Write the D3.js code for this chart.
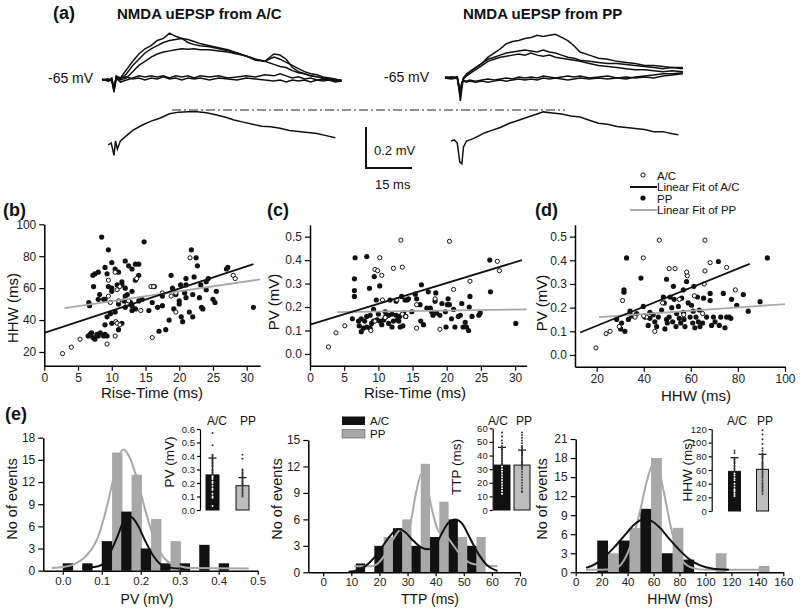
<!DOCTYPE html>
<html>
<head>
<meta charset="utf-8">
<script src="https://cdn.jsdelivr.net/npm/d3@7"></script>
<style>
  body { margin: 0; background: #fff; }
  svg text { font-family: "Liberation Sans", Arial, Helvetica, sans-serif; }
</style>
</head>
<body>
<svg id="fig" width="800" height="613"></svg>
<script>
// ---- panel (a): traces, time in ms, amplitude in mV (baseline 0) ----
var acTime = [0,2,3.2,3.9,4.6,6,8,10,12,14,16,18,20,22,24,26,28,30,32,35,38,41,44,47,50,53,56,58,60,62,64,66,68,70,72,74,76,78];
var acTraces = [
  [0.005,-0.005,0.01,-0.06,0.02,0.01,0.05,0.09,0.125,0.15,0.165,0.19,0.2,0.225,0.21,0.2,0.195,0.185,0.175,0.165,0.155,0.145,0.13,0.115,0.095,0.09,0.11,0.1,0.085,0.07,0.055,0.04,0.03,0.025,0.015,0.01,0.005,-0.005],
  [0,0.005,-0.005,-0.05,0.015,0.005,0.03,0.07,0.1,0.13,0.15,0.165,0.18,0.19,0.195,0.2,0.18,0.17,0.165,0.16,0.15,0.14,0.13,0.115,0.1,0.09,0.125,0.12,0.1,0.06,0.04,0.03,0.02,0.015,0.01,0.005,0,0],
  [0,0,0.005,-0.04,0.01,0,0.01,0.04,0.07,0.09,0.11,0.125,0.135,0.14,0.145,0.15,0.148,0.15,0.145,0.145,0.14,0.135,0.125,0.115,0.1,0.09,0.075,0.065,0.06,0.045,0.035,0.03,0.02,0.015,0.01,0.005,0,-0.005],
  [0.005,-0.005,0,-0.04,0.01,-0.01,0,0.01,0.02,0.015,0.02,0.015,0.02,0.01,0.02,0.015,0.02,0.01,0.02,0.015,0.02,0.01,0.015,0.02,0.015,0.025,0.02,0.03,0.02,0.01,0.015,0.005,0.01,0,0.005,0,-0.005,0],
  [0,0.005,-0.005,-0.05,0,0.01,0.015,0.005,0.01,0,0.01,0.005,0.015,0.005,0.01,0,0.01,0.005,0.01,0,0.01,0.005,0,0.01,0.005,0,-0.005,0,-0.01,0,-0.005,0,-0.01,0,-0.005,0,-0.01,-0.005]
];
var acAvgTime = [2,3,3.9,4.4,5,6,8,10,13,16,19,22,25,28,31,34,37,40,43,46,49,52,55,58,61,64,67,70,73,76];
var acAvg = [0,0.01,-0.05,0.02,-0.02,0.02,0.045,0.07,0.095,0.115,0.13,0.15,0.158,0.16,0.16,0.155,0.145,0.135,0.12,0.11,0.1,0.09,0.088,0.08,0.07,0.065,0.06,0.055,0.045,0.035];

var ppTime = [0,2,4,4.6,5,5.5,6,7,8,10,12,14,16,18,20,22,24,26,28,30,32,34,36,38,40,42,44,47,50,53,56,59,62,65,68,71,74,77.5];
var ppTraces = [
  [0,0.005,0,-0.06,-0.11,-0.05,0,0.02,0.03,0.05,0.07,0.1,0.12,0.14,0.165,0.175,0.18,0.19,0.195,0.205,0.2,0.205,0.21,0.195,0.18,0.155,0.125,0.11,0.095,0.09,0.08,0.075,0.07,0.06,0.06,0.055,0.05,0.05],
  [0.005,0,0.005,-0.05,-0.09,-0.03,0,0.015,0.03,0.05,0.07,0.09,0.1,0.11,0.12,0.125,0.13,0.135,0.13,0.125,0.135,0.125,0.12,0.11,0.1,0.095,0.085,0.08,0.075,0.07,0.07,0.065,0.06,0.055,0.05,0.045,0.05,0.045],
  [0,0.005,0,-0.05,-0.08,-0.03,-0.005,0.01,0.02,0.04,0.06,0.08,0.09,0.1,0.105,0.11,0.115,0.11,0.12,0.11,0.105,0.11,0.1,0.095,0.09,0.085,0.08,0.07,0.06,0.055,0.05,0.045,0.04,0.04,0.035,0.03,0.035,0.03],
  [0,-0.005,0,-0.04,-0.07,-0.02,-0.01,-0.015,-0.01,-0.015,-0.01,-0.005,-0.01,-0.005,0,-0.005,0.005,0,0.005,0,0.01,0.005,0,0.005,0.01,0.005,0.01,0,0.005,0.01,0,-0.005,0.005,0.01,0.015,0.02,0.02,0.025],
  [0.005,0,0.005,-0.04,-0.06,-0.02,-0.015,-0.02,-0.015,-0.02,-0.015,-0.02,-0.015,-0.01,-0.015,-0.01,-0.005,-0.01,-0.005,-0.01,0,-0.005,0,-0.005,-0.01,-0.005,0,-0.005,0,-0.005,0,0.005,0,0.005,0,0.01,0.015,0.02]
];
var ppAvgTime = [2,3,4,4.8,5.5,6,7,9,11,13,15,18,21,24,27,30,32,35,38,41,44,47,50,53,56,59,62,65,68,71,74,76];
var ppAvg = [0,0.005,-0.01,-0.1,-0.11,-0.03,0,0.01,0.025,0.04,0.05,0.065,0.085,0.1,0.115,0.13,0.14,0.135,0.13,0.12,0.115,0.1,0.085,0.08,0.07,0.065,0.06,0.055,0.045,0.045,0.035,0.03];

// ---- panels (b)-(d): scatter [x, y] ----
var bAC = [[2.7,19],[4,23],[5.3,28],[9.3,25],[9.5,65],[10.5,70],[10.6,39],[10.8,38],[11.2,37],[10.5,30],[9.8,51],[9.5,55],[10.8,59],[11.2,61],[12.3,50],[13.7,66],[14.3,46],[15.8,61],[16.2,61],[16,29],[18.8,55],[19.5,45],[21.6,79],[28,68],[28.3,66],[11,52],[12.5,52],[17.5,57],[19.5,57]];
var bPP = [[6.5,30],[6.8,31],[7.2,29],[7.5,28],[7.8,31],[8,30],[8.3,32],[8.8,30],[9,31],[9.3,30],[7,32],[6.6,51],[6.7,49],[7.2,68],[7.5,69],[8,70],[8.5,92],[9,73],[9.3,69],[9.5,84],[10,76],[10.5,72],[11,70],[10,60],[9.5,61],[8.8,53],[9,53],[9.3,42],[9,37],[9.8,44],[10,38],[10.5,45],[11,50],[11.5,62],[11.5,64],[12,60],[12,77],[12.5,74],[13,72],[13.5,75],[13.5,65],[14,68],[12,55],[12.3,56],[12.5,50],[13,49],[13,46],[13.5,47],[14,52],[14.5,53],[11.5,38],[11,34],[14.8,89],[15.5,46],[16,51],[16.3,61],[17,33],[17.5,49],[17.5,55],[18,34],[18.5,40],[18.8,68],[19,60],[19.5,56],[20,50],[20,52],[20.3,42],[20.5,39],[20.8,57],[21,54],[21,62],[21,66],[21.5,45],[22,42],[21.8,84],[22,56],[22.2,67],[22.5,79],[22.7,74],[23,54],[23.2,62],[23.3,48],[23.5,47],[24,59],[24,64],[24.3,66],[25,53],[25.3,51],[25.5,58],[27,72],[27.2,73],[31,48],[13,58],[12,48],[14,75],[10.8,62],[8,53],[10,58],[7.3,61],[8.2,56],[11.8,52],[12.8,51],[16.8,48],[19.2,47],[20.2,62]];
var bFitAC = [[0,32],[31,75]];
var bFitPP = [[3,47.5],[32,65.5]];

var cAC = [[2.7,0.03],[3.8,0.09],[5.1,0.12],[8.9,0.1],[9.5,0.36],[9.9,0.355],[10.2,0.41],[10.5,0.335],[12.2,0.365],[13.3,0.485],[13.5,0.37],[12.7,0.23],[14,0.16],[15.6,0.11],[15.6,0.21],[18.3,0.235],[19,0.105],[20.4,0.48],[21,0.275],[23.4,0.31],[27.4,0.395],[27.7,0.355],[9.5,0.14],[11,0.155],[10.6,0.23],[13.5,0.17]];
var cPP = [[6.6,0.41],[6.5,0.32],[6.5,0.27],[6.5,0.245],[8.3,0.415],[8.7,0.28],[9.4,0.33],[10.2,0.29],[9.7,0.23],[6.2,0.15],[7.1,0.14],[7.2,0.12],[7.5,0.095],[7.8,0.11],[8.3,0.16],[8.8,0.165],[8.3,0.115],[8.8,0.11],[9.3,0.14],[9.3,0.19],[9.8,0.145],[10.2,0.14],[10.5,0.125],[11,0.18],[11.1,0.16],[11.5,0.13],[11.7,0.23],[12,0.115],[12.2,0.14],[12.6,0.225],[12.6,0.165],[12.8,0.145],[13.1,0.16],[13.2,0.115],[13.4,0.245],[13.7,0.175],[13.9,0.23],[14.2,0.23],[13.6,0.12],[14.4,0.235],[14.9,0.18],[15.4,0.255],[15.6,0.235],[16.1,0.21],[16.3,0.295],[16.2,0.14],[16.6,0.125],[17.1,0.195],[17.3,0.265],[17.6,0.195],[17.8,0.18],[18,0.165],[18.3,0.225],[18.4,0.26],[18.5,0.175],[19,0.165],[19.3,0.215],[19.8,0.18],[19.9,0.115],[20.1,0.21],[20.2,0.235],[20.4,0.21],[20.7,0.15],[21,0.19],[21.2,0.115],[21.7,0.16],[22,0.165],[22.2,0.215],[22.4,0.115],[22.7,0.135],[22.9,0.115],[23.2,0.1],[23.3,0.2],[23.4,0.245],[23.7,0.16],[24.7,0.165],[24.9,0.175],[26.3,0.4],[26.4,0.265],[30.1,0.13],[7.5,0.15],[8,0.14],[9,0.13],[10,0.17],[10.8,0.145],[11.5,0.165],[12,0.17],[13,0.14],[14,0.16]];
var cFitAC = [[0,0.125],[31,0.40]];
var cFitPP = [[4,0.178],[31.7,0.19]];

var dAC = [[19.7,0.03],[24,0.09],[25.7,0.1],[29.6,0.12],[31,0.23],[36.3,0.16],[39.8,0.41],[46.6,0.485],[41.2,0.16],[44.7,0.1],[50.8,0.365],[53.3,0.365],[55.1,0.235],[58.5,0.335],[58.2,0.35],[61.5,0.25],[66,0.485],[66,0.355],[65.7,0.3],[68.2,0.39],[75.2,0.37],[78.9,0.275],[65,0.175],[57,0.17],[40,0.165],[48,0.22]];
var dPP = [[32.7,0.41],[31.6,0.275],[31.6,0.265],[38.8,0.325],[39.8,0.205],[34.2,0.185],[28.5,0.15],[30.6,0.135],[30.2,0.11],[32,0.1],[33.5,0.15],[34.9,0.165],[37,0.175],[40.5,0.16],[41.9,0.125],[42.6,0.155],[44,0.17],[44.7,0.14],[45.5,0.12],[46.2,0.16],[47.6,0.19],[48.3,0.245],[48.7,0.22],[49,0.11],[49.7,0.15],[49.7,0.32],[50,0.135],[50.8,0.16],[51.2,0.245],[51.9,0.2],[52.3,0.14],[52.6,0.29],[52.9,0.235],[53.7,0.12],[54,0.175],[54.7,0.205],[55.1,0.155],[55.7,0.135],[56.1,0.24],[56.8,0.275],[56.8,0.18],[57.1,0.15],[57.5,0.12],[58.2,0.31],[58.9,0.22],[59.7,0.16],[60.3,0.21],[60.8,0.135],[61,0.185],[61.3,0.29],[61.7,0.115],[62.2,0.16],[62.8,0.245],[63.2,0.14],[63.6,0.19],[63.9,0.12],[65,0.135],[65.4,0.24],[66.7,0.16],[68.2,0.26],[68.2,0.23],[68.8,0.125],[69.6,0.16],[70.3,0.14],[71.7,0.395],[72.1,0.125],[72.7,0.16],[73.8,0.26],[74.5,0.115],[75.2,0.16],[76.3,0.16],[77,0.155],[77.3,0.235],[79.5,0.21],[82.3,0.255],[84.4,0.185],[89.4,0.225],[92.5,0.41],[42.6,0.18]];
var dFitAC = [[13,0.095],[85,0.385]];
var dFitPP = [[21,0.16],[100,0.215]];

// ---- panel (e): histograms (bin left edges, counts) and fitted curves ----
var pvBins = [0,0.05,0.1,0.15,0.2,0.25,0.3,0.35,0.4];
var pvAC = [1,1,4,8,3,1,1,3.5,1];
var pvPP = [0,0,16,13,7,4,0,0,0];
var pvCurveAC = [[0.05,0.4],[0.08,0.5],[0.1,0.8],[0.12,2.3],[0.14,4.6],[0.155,6.6],[0.168,7.4],[0.18,7.1],[0.195,5.9],[0.21,4.2],[0.23,2.2],[0.25,0.9],[0.27,0.45],[0.3,0.3]];
var pvCurvePP = [[-0.028,0.35],[0,0.5],[0.03,0.9],[0.06,2],[0.09,4.5],[0.11,8],[0.13,12.5],[0.145,15.6],[0.155,16.4],[0.17,15.5],[0.19,12.5],[0.21,8.5],[0.23,5],[0.25,2.5],[0.27,1.2],[0.3,0.6],[0.33,0.35],[0.477,0.3]];

var ttpBins = [11.6,18.2,24.8,31.4,38,44.6,51.2];
var ttpAC = [1,3,5,3,4,6,3];
var ttpPP = [0,4,6,12.3,8,4,4];
var ttpCurveAC = [[9,0.05],[12,0.2],[15,0.7],[18,1.6],[21,2.9],[24,4.2],[26.5,4.9],[29,4.6],[32,3.6],[35,2.8],[37.5,2.6],[40,3.1],[42,4.3],[44.5,5.6],[47,6],[49.5,5.5],[52,4],[55,2.2],[58,0.9],[62,0.15]];
var ttpCurvePP = [[11,0.7],[17,0.7],[19,0.9],[22,2],[25,3.8],[27.5,4.8],[29.5,4.3],[31,5.5],[33,9],[35,11.2],[36.5,10.5],[38.5,7.4],[40.5,5],[42,4.3],[44,4],[46,3.2],[49,1.9],[52,1.1],[56,0.8],[62,0.7]];

var hhwBins = [16.6,33.2,49.8,66.4,83,99.6,116.2,132.8];
var hhwAC = [5,5,10,3,2,0,0,0];
var hhwPP = [3,7,18,7,0,3,0,1];
var hhwCurveAC = [[8,0.7],[15,1.3],[22,2.4],[30,4],[38,5.9],[45,7.5],[52,8.3],[58,8.1],[65,7],[72,5.3],[80,3.5],[88,2],[96,1.1],[105,0.6],[118,0.4]];
var hhwCurvePP = [[8,0.4],[20,0.4],[30,0.6],[36,1.5],[40,3],[45,6],[50,10],[55,14.5],[59,16.8],[62,17],[66,14.5],[70,10.5],[74,6.5],[78,3.5],[83,1.6],[90,0.7],[100,0.4],[145,0.4]];

// insets: individual values, mean and mean+SD
var pvDotsAC = [0.57,0.48,0.41,0.4,0.39,0.38,0.37,0.36,0.35,0.34,0.33,0.32,0.3,0.29,0.28,0.27,0.25,0.24,0.23,0.21,0.2,0.18,0.16,0.15,0.12,0.1,0.09,0.03];
var pvDotsPP = [0.41,0.38,0.3,0.29,0.28,0.27,0.26,0.25,0.24,0.23,0.22,0.21,0.2,0.19,0.18,0.17,0.16,0.15,0.14,0.13,0.12,0.11,0.1];
var pvMean = [0.26, 0.18], pvSD = [0.385, 0.24];
var ttpDotsAC = [57,54,51,49,47,46,45,44,42,40,38,36,34,32,30,28,26,24,22,20,18,16,14,12];
var ttpDotsPP = [57,55,53,51,49,47,46,45,44,43,42,41,40,38,36,35,34,33,32,31,30,28,26,24,22,20,18,16,14,13];
var ttpMean = [33, 33], ttpSD = [46, 44];
var hhwDotsAC = [88,85,78,75,72,70,66,62,58,55,52,48,45,40,36,32,30,28,25,22];
var hhwDotsPP = [118,112,105,98,92,88,84,82,80,78,76,72,70,68,66,64,62,60,58,56,54,52,50,48,45,42,40,38,36,34,32,30,28,25];
var hhwMean = [58, 61], hhwSD = [78, 83];

var GREY = '#a8a8a8';
var svg = d3.select('#fig');

function styleAxis(g, size) {
	g.attr('font-size', size).attr('font-family', '"Liberation Sans", Arial, sans-serif');
	g.select('.domain').attr('stroke-width', 1.5);
	g.selectAll('.tick line').attr('stroke-width', 1.2);
	g.selectAll('.tick text').attr('fill', '#222');
}

function label(x, y, txt, size, opts) {
	opts = opts || {};
	var t = svg.append('text').attr('x', x).attr('y', y).text(txt)
		.attr('font-size', size).attr('fill', '#111')
		.attr('text-anchor', opts.anchor || 'start');
	if (opts.bold) t.attr('font-weight', 'bold');
	if (opts.rotate) t.attr('transform', 'rotate(-90,' + x + ',' + y + ')');
	return t;
}

// ---------------- (a) ----------------
function traces(time, sets, x0, base, avg) {
	var x = d3.scaleLinear().domain([0, 78]).range([x0, x0 + 78 * 3.07]);
	var y = d3.scaleLinear().domain([0, 0.2]).range([base, base - 41.6]);
	var line = d3.line().x(function(d) { return x(d[0]); }).y(function(d) { return y(d[1]); });
	sets.forEach(function(vals) {
		svg.append('path').datum(time.map(function(t, i) { return [t, vals[i]]; }))
			.attr('d', line).attr('fill', 'none').attr('stroke', '#111').attr('stroke-width', 1.5);
	});
	var ya = d3.scaleLinear().domain([0, 0.2]).range([avg.base, avg.base - 41.6]);
	var lineA = d3.line().x(function(d) { return x(d[0]); }).y(function(d) { return ya(d[1]); });
	svg.append('path').datum(avg.time.map(function(t, i) { return [t, avg.vals[i]]; }))
		.attr('d', lineA).attr('fill', 'none').attr('stroke', '#111').attr('stroke-width', 1.5);
}

traces(acTime, acTraces, 102, 80, {time: acAvgTime, vals: acAvg, base: 145});
traces(ppTime, ppTraces, 445, 78, {time: ppAvgTime, vals: ppAvg, base: 141});

label(53, 19, '(a)', 18, {bold: true});
label(117, 19, 'NMDA uEPSP from A/C', 15, {bold: true});
label(463, 19, 'NMDA uEPSP from PP', 15, {bold: true});
label(48, 83, '-65 mV', 14);
label(384, 82, '-65  mV', 14);
svg.append('line').attr('x1', 172).attr('x2', 565).attr('y1', 110).attr('y2', 110)
	.attr('stroke', '#222').attr('stroke-width', 1.2).attr('stroke-dasharray', '9,3,2,3');
svg.append('path').attr('d', 'M366,127V168H412').attr('fill', 'none').attr('stroke', '#111').attr('stroke-width', 2);
label(374, 155, '0.2 mV', 13);
label(375, 189, '15 ms', 13);

// ---------------- (b)-(d) ----------------
function scatter(p) {
	var x = d3.scaleLinear().domain(p.xd).range(p.xr);
	var y = d3.scaleLinear().domain(p.yd).range(p.yr);
	var gx = svg.append('g').attr('transform', 'translate(0,' + p.yr[0] + ')')
		.call(d3.axisBottom(x).tickValues(p.xt).tickSize(5).tickSizeOuter(0).tickPadding(3).tickFormat(d3.format('d')));
	var gy = svg.append('g').attr('transform', 'translate(' + p.xr[0] + ',0)')
		.call(d3.axisLeft(y).tickValues(p.yt).tickSize(5).tickSizeOuter(0).tickPadding(3).tickFormat(p.yf));
	styleAxis(gx, 12); styleAxis(gy, 12);

	svg.append('g').selectAll('circle').data(p.pp).join('circle')
		.attr('cx', function(d) { return x(d[0]); }).attr('cy', function(d) { return y(d[1]); })
		.attr('r', 2.6).attr('fill', '#111');
	svg.append('g').selectAll('circle').data(p.ac).join('circle')
		.attr('cx', function(d) { return x(d[0]); }).attr('cy', function(d) { return y(d[1]); })
		.attr('r', 2.1).attr('fill', '#fff').attr('stroke', '#111').attr('stroke-width', 1);

	var line = d3.line().x(function(d) { return x(d[0]); }).y(function(d) { return y(d[1]); });
	svg.append('path').datum(p.fitPP).attr('d', line).attr('stroke', GREY).attr('stroke-width', 1.8);
	svg.append('path').datum(p.fitAC).attr('d', line).attr('stroke', '#111').attr('stroke-width', 1.8);

	label(p.lab[0], 216, p.lab[1], 18, {bold: true});
	label(p.xTitle[0], p.xTitle[1], p.xTitle[2], 15, {anchor: 'middle'});
	label(p.yTitle[0], p.yTitle[1], p.yTitle[2], 15, {anchor: 'middle', rotate: true});
}

scatter({xd: [0, 32], xr: [44.3, 260.2], yd: [11.4, 100], yr: [365.7, 224.3],
	xt: [0,5,10,15,20,25,30], yt: [20,40,60,80,100], yf: d3.format('d'),
	ac: bAC, pp: bPP, fitAC: bFitAC, fitPP: bFitPP,
	lab: [3, '(b)'], xTitle: [152, 398, 'Rise-Time (ms)'], yTitle: [18, 308, 'HHW (ms)']});
scatter({xd: [0, 31.7], xr: [310, 526.7], yd: [-0.05, 0.55], yr: [365.7, 224.9],
	xt: [0,5,10,15,20,25,30], yt: [0,0.1,0.2,0.3,0.4,0.5], yf: d3.format('.1f'),
	ac: cAC, pp: cPP, fitAC: cFitAC, fitPP: cFitPP,
	lab: [267, '(c)'], xTitle: [415, 398, 'Rise-Time (ms)'], yTitle: [279, 302, 'PV (mV)']});
scatter({xd: [10.8, 100], xr: [575, 785], yd: [-0.05, 0.55], yr: [366.8, 224.8],
	xt: [20,40,60,80,100], yt: [0,0.1,0.2,0.3,0.4,0.5], yf: d3.format('.1f'),
	ac: dAC, pp: dPP, fitAC: dFitAC, fitPP: dFitPP,
	lab: [535, '(d)'], xTitle: [696, 401, 'HHW (ms)'], yTitle: [547, 303, 'PV (mV)']});

// legend of (d)
svg.append('circle').attr('cx', 643).attr('cy', 175).attr('r', 2.1).attr('fill', '#fff').attr('stroke', '#111');
svg.append('line').attr('x1', 630).attr('x2', 657).attr('y1', 187).attr('y2', 187).attr('stroke', '#111').attr('stroke-width', 2);
svg.append('circle').attr('cx', 643).attr('cy', 198).attr('r', 2.6).attr('fill', '#111');
svg.append('line').attr('x1', 630).attr('x2', 657).attr('y1', 210).attr('y2', 210).attr('stroke', GREY).attr('stroke-width', 2);
label(657, 179.5, 'A/C', 11.5);
label(657, 191, 'Linear Fit of A/C', 11.5);
label(657, 202.5, 'PP', 11.5);
label(657, 214, 'Linear Fit of PP', 11.5);

// ---------------- (e) ----------------
function hist(p) {
	var x = d3.scaleLinear().domain(p.xd).range(p.xr);
	var y = d3.scaleLinear().domain(p.yd).range(p.yr);
	var half = p.bw / 2;
	var rows = p.bins.map(function(b, i) { return {b: b, ac: p.ac[i], pp: p.pp[i]}; });
	svg.append('g').selectAll('rect').data(rows.filter(function(d) { return d.pp > 0; })).join('rect')
		.attr('x', function(d) { return x(d.b + half); })
		.attr('width', function(d) { return x(d.b + p.bw) - x(d.b + half); })
		.attr('y', function(d) { return y(d.pp); })
		.attr('height', function(d) { return y(0) - y(d.pp); })
		.attr('fill', GREY);
	svg.append('g').selectAll('rect').data(rows.filter(function(d) { return d.ac > 0; })).join('rect')
		.attr('x', function(d) { return x(d.b); })
		.attr('width', function(d) { return x(d.b + half) - x(d.b); })
		.attr('y', function(d) { return y(d.ac); })
		.attr('height', function(d) { return y(0) - y(d.ac); })
		.attr('fill', '#111');
	var line = d3.line().x(function(d) { return x(d[0]); }).y(function(d) { return y(d[1]); }).curve(d3.curveMonotoneX);
	svg.append('path').datum(p.cPP).attr('d', line).attr('fill', 'none').attr('stroke', GREY).attr('stroke-width', 2);
	svg.append('path').datum(p.cAC).attr('d', line).attr('fill', 'none').attr('stroke', '#111').attr('stroke-width', 2);

	var gx = svg.append('g').attr('transform', 'translate(0,' + p.yr[0] + ')')
		.call(d3.axisBottom(x).tickValues(p.xt).tickSize(4).tickSizeOuter(0).tickPadding(2).tickFormat(p.xf));
	var gy = svg.append('g').attr('transform', 'translate(' + p.xr[0] + ',0)')
		.call(d3.axisLeft(y).tickValues(p.yt).tickSize(5).tickSizeOuter(0).tickPadding(3).tickFormat(d3.format('d')));
	styleAxis(gx, 11.5); styleAxis(gy, 12);
	label(p.xTitle[0], 604, p.xTitle[1], 14, {anchor: 'middle'});
	label(p.yx, 499, 'No of events', 14.5, {anchor: 'middle', rotate: true});
}

function inset(p) {
	var y = d3.scaleLinear().domain([0, p.max]).range([p.base, p.top]);
	var gy = svg.append('g').attr('transform', 'translate(' + p.ax + ',0)')
		.call(d3.axisLeft(y).tickValues(p.ticks).tickSize(3).tickSizeOuter(0).tickPadding(2).tickFormat(p.fmt));
	styleAxis(gy, 9.5);
	gy.select('.domain').attr('stroke-width', 1.2);
	var groups = [
		{cx: p.cx[0], mean: p.mean[0], sd: p.sd[0], dots: p.dotsAC, fill: '#111', dot: '#fff'},
		{cx: p.cx[1], mean: p.mean[1], sd: p.sd[1], dots: p.dotsPP, fill: '#bdbdbd', dot: '#444'}
	];
	groups.forEach(function(g) {
		svg.append('rect').attr('x', g.cx - p.w / 2).attr('width', p.w)
			.attr('y', y(g.mean)).attr('height', y(0) - y(g.mean))
			.attr('fill', g.fill).attr('stroke', '#111').attr('stroke-width', 1);
		svg.append('line').attr('x1', g.cx).attr('x2', g.cx).attr('y1', y(g.mean)).attr('y2', y(g.sd))
			.attr('stroke', '#111').attr('stroke-width', 1.2);
		svg.append('line').attr('x1', g.cx - 4).attr('x2', g.cx + 4).attr('y1', y(g.sd)).attr('y2', y(g.sd))
			.attr('stroke', '#111').attr('stroke-width', 1.2);
		svg.append('g').selectAll('circle').data(g.dots).join('circle')
			.attr('cx', g.cx).attr('cy', function(d) { return y(d); }).attr('r', 1)
			.attr('fill', function(d) { return d < g.mean ? g.dot : '#333'; });
	});
	label(p.lx[0], 425, 'A/C', 12, {anchor: 'middle'});
	label(p.lx[1], 425, 'PP', 12, {anchor: 'middle'});
	label(p.title[0], p.title[1], p.title[2], 13.5, {anchor: 'middle', rotate: true});
}

hist({xd: [-0.05, 0.5], xr: [43.3, 257.7], yd: [0, 18], yr: [570.7, 437.7], bw: 0.053,
	bins: pvBins, ac: pvAC, pp: pvPP, cAC: pvCurveAC, cPP: pvCurvePP,
	xt: [0,0.1,0.2,0.3,0.4,0.5], xf: d3.format('.1f'), yt: [0,3,6,9,12,15,18],
	xTitle: [147, 'PV (mV)'], yx: 17});
hist({xd: [-5.3, 70], xr: [308.3, 520], yd: [0, 15], yr: [572.3, 440], bw: 6.6,
	bins: ttpBins, ac: ttpAC, pp: ttpPP, cAC: ttpCurveAC, cPP: ttpCurvePP,
	xt: [0,10,20,30,40,50,60,70], xf: d3.format('d'), yt: [0,3,6,9,12,15],
	xTitle: [430, 'TTP (ms)'], yx: 282});
hist({xd: [0, 160], xr: [575.7, 783.3], yd: [0, 21], yr: [572.3, 439], bw: 16.6,
	bins: hhwBins, ac: hhwAC, pp: hhwPP, cAC: hhwCurveAC, cPP: hhwCurvePP,
	xt: [0,20,40,60,80,100,120,140,160], xf: d3.format('d'), yt: [0,3,6,9,12,15,18,21],
	xTitle: [680, 'HHW (ms)'], yx: 547});

inset({ax: 200, base: 510, top: 429, max: 0.6, ticks: [0,0.1,0.2,0.3,0.4,0.5,0.6], fmt: d3.format('.1f'),
	cx: [212.5, 242.5], w: 13, mean: pvMean, sd: pvSD, dotsAC: pvDotsAC, dotsPP: pvDotsPP,
	lx: [217, 248], title: [174, 462, 'PV (mV)']});
inset({ax: 492.7, base: 510, top: 428.3, max: 60, ticks: [0,10,20,30,40,50,60], fmt: d3.format('d'),
	cx: [502, 522], w: 16, mean: ttpMean, sd: ttpSD, dotsAC: ttpDotsAC, dotsPP: ttpDotsPP,
	lx: [498, 524], title: [461, 467, 'TTP (ms)']});
inset({ax: 711.7, base: 511, top: 429, max: 120, ticks: [0,20,40,60,80,100,120], fmt: d3.format('d'),
	cx: [734.5, 762.5], w: 12, mean: hhwMean, sd: hhwSD, dotsAC: hhwDotsAC, dotsPP: hhwDotsPP,
	lx: [737, 765], title: [692, 470, 'HHW (ms)']});

// legend of (e) middle
svg.append('rect').attr('x', 342).attr('y', 416.5).attr('width', 23).attr('height', 8.5).attr('fill', '#111');
svg.append('rect').attr('x', 342).attr('y', 429.5).attr('width', 23).attr('height', 8.5).attr('fill', GREY).attr('stroke', '#555').attr('stroke-width', 0.6);
label(370, 425, 'A/C', 11.5);
label(370, 438, 'PP', 11.5);
label(5, 420, '(e)', 18, {bold: true});
</script>
</body>
</html>
